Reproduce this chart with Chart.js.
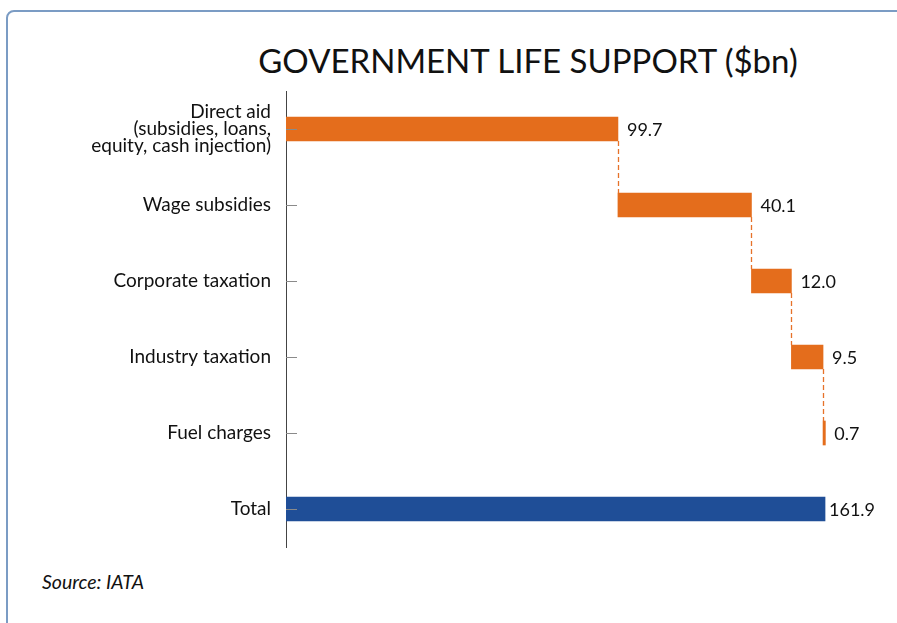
<!DOCTYPE html>
<html>
<head>
<meta charset="utf-8">
<script src="https://cdn.jsdelivr.net/npm/chart.js@4.4.1/dist/chart.umd.min.js"></script>
<style>
  html, body { margin: 0; padding: 0; background: #fff; overflow: hidden; }
  #frame {
    position: absolute; left: 6px; top: 10px; width: 1000px; height: 1000px;
    border: 2px solid #7b9cc4; border-radius: 8px; box-sizing: border-box;
  }
  #title {
    position: absolute; left: 228px; width: 600px; top: 38px;
    text-align: center; font-family: Lato, sans-serif; font-size: 33px;
    color: #111; white-space: nowrap; line-height: 44px;
  }
  #source {
    position: absolute; left: 42px; top: 570px;
    font-family: Lato, sans-serif; font-style: italic; font-size: 19.5px; color: #111;
    line-height: 24px;
  }
  canvas { position: absolute; left: 0; top: 0; }
</style>
</head>
<body>
<div id="frame"></div>
<div id="title">GOVERNMENT LIFE SUPPORT ($bn)</div>
<div id="source">Source: IATA</div>
<canvas id="c" width="897" height="623"></canvas>
<script>
// Categories of support, top to bottom
const categories = [
  ["Direct aid", "(subsidies, loans,", "equity, cash injection)"],
  "Wage subsidies",
  "Corporate taxation",
  "Industry taxation",
  "Fuel charges",
  "Total"
];
// Contribution of each measure ($bn)
const increments = [99.7, 40.1, 12.0, 9.5, 0.7];
// Overall total ($bn)
const total = 161.9;
// Printed value labels
const valueLabels = ["99.7", "40.1", "12.0", "9.5", "0.7", "161.9"];

const ORANGE = '#e46d1c';
const BLUE = '#1f4e97';

// Waterfall: each step floats from the running sum to the next
const ranges = [];
let running = 0;
increments.forEach(v => {
  ranges.push([running, +(running + v).toFixed(1)]);
  running += v;
});
ranges.push([0, total]);

const colors = increments.map(() => ORANGE).concat([BLUE]);

const waterfallExtras = {
  id: 'waterfallExtras',
  afterDatasetsDraw(chart) {
    const ctx = chart.ctx;
    const meta = chart.getDatasetMeta(0);
    const bars = meta.data;
    const yScale = chart.scales.y;
    ctx.save();
    // dashed connectors between consecutive steps
    ctx.strokeStyle = '#e6722a';
    ctx.lineWidth = 1.3;
    ctx.setLineDash([5, 3]);
    for (let i = 0; i < increments.length - 1; i++) {
      const a = bars[i], b = bars[i + 1];
      const x = Math.round(a.x) + 0.5;
      ctx.beginPath();
      ctx.moveTo(x, a.y + a.height / 2);
      ctx.lineTo(x, b.y - b.height / 2);
      ctx.stroke();
    }
    ctx.setLineDash([]);
    // inward tick marks on the category axis
    ctx.strokeStyle = '#8a8a8a';
    ctx.lineWidth = 1;
    const ax = chart.chartArea.left;
    yScale.ticks.forEach((t, i) => {
      const y = Math.round(yScale.getPixelForTick(i)) + 0.5;
      ctx.beginPath();
      ctx.moveTo(ax, y);
      ctx.lineTo(ax + 11, y);
      ctx.stroke();
    });
    // value labels
    ctx.fillStyle = '#111';
    ctx.font = '18px Lato, sans-serif';
    ctx.textBaseline = 'middle';
    ctx.textAlign = 'left';
    bars.forEach((bar, i) => {
      const off = i === bars.length - 1 ? 4 : 9;
      ctx.fillText(valueLabels[i], bar.x + off, bar.y + 1);
    });
    ctx.restore();
  }
};

new Chart(document.getElementById('c'), {
  type: 'bar',
  data: {
    labels: categories,
    datasets: [{
      data: ranges,
      backgroundColor: colors,
      borderWidth: 0,
      barThickness: 24,
      borderSkipped: false
    }]
  },
  options: {
    indexAxis: 'y',
    responsive: false,
    animation: false,
    layout: { padding: { left: 0, right: 45, top: 91, bottom: 76 } },
    plugins: {
      legend: { display: false },
      title: { display: false },
      tooltip: { enabled: false }
    },
    scales: {
      x: {
        display: false,
        min: 0,
        max: 170
      },
      y: {
        grid: { display: false, drawTicks: false },
        border: { display: true, color: '#444', width: 1 },
        afterFit(scale) { scale.width = 286; },
        ticks: {
          color: '#111',
          padding: 15,
          font: { family: 'Lato, sans-serif', size: 19, lineHeight: 0.9 }
        }
      }
    }
  },
  plugins: [waterfallExtras]
});
</script>
</body>
</html>
